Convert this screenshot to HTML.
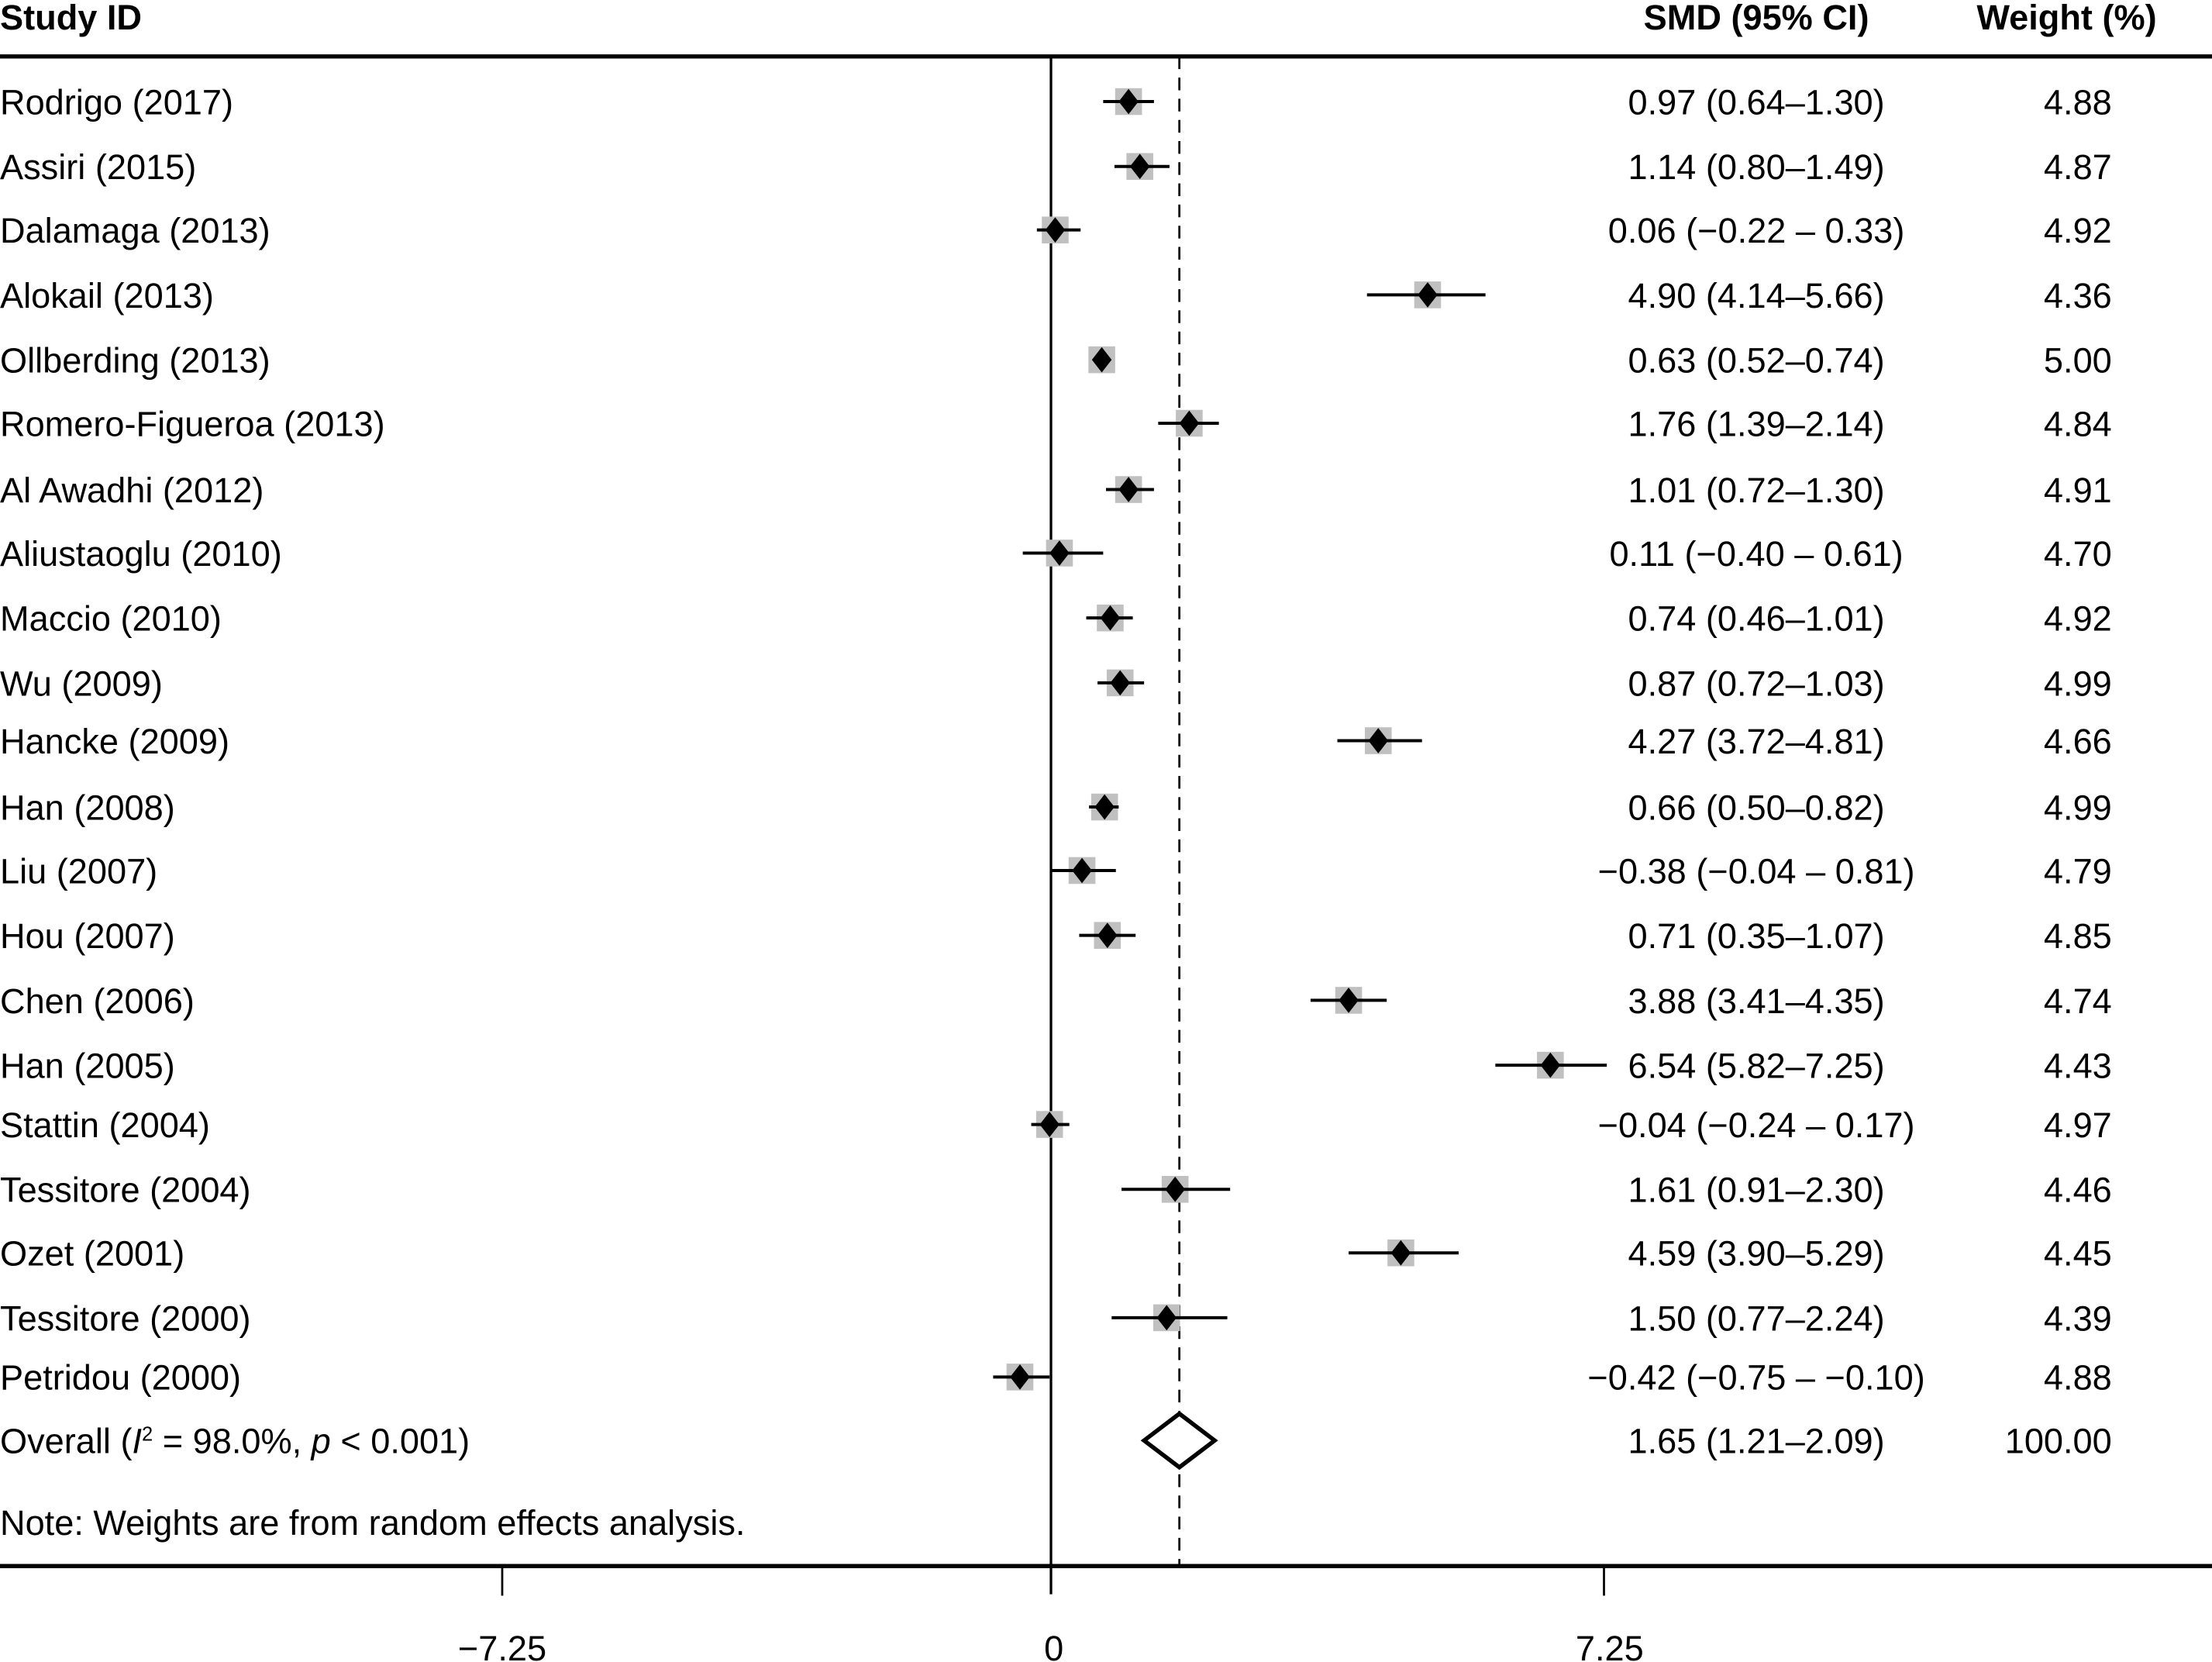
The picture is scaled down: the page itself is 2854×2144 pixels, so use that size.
<!DOCTYPE html>
<html><head><meta charset="utf-8"><style>
html,body{margin:0;padding:0;background:#fff;}
svg{display:block;}
text{font-family:"Liberation Sans",sans-serif;font-size:24.8px;fill:#000;}
</style></head><body>
<svg width="2854" height="2144" viewBox="0 0 1568 1178" preserveAspectRatio="none" xmlns="http://www.w3.org/2000/svg">
<rect width="1568" height="1178" fill="#fff"/>
<text x="0" y="21" font-weight="bold">Study ID</text>
<text x="1245" y="21" font-weight="bold" text-anchor="middle">SMD (95% CI)</text>
<text x="1465" y="21" font-weight="bold" text-anchor="middle">Weight (%)</text>
<line x1="0" y1="40" x2="1568" y2="40" stroke="#000" stroke-width="3"/>
<line x1="0" y1="1110" x2="1568" y2="1110" stroke="#000" stroke-width="3"/>
<line x1="745" y1="40" x2="745" y2="1130" stroke="#000" stroke-width="1.8"/>
<line x1="836" y1="40" x2="836" y2="1110" stroke="#000" stroke-width="1.5" stroke-dasharray="9,6"/>
<line x1="356" y1="1110" x2="356" y2="1131" stroke="#000" stroke-width="1.5"/>
<line x1="1137" y1="1110" x2="1137" y2="1131" stroke="#000" stroke-width="1.5"/>
<text x="356" y="1177" text-anchor="middle">−7.25</text>
<text x="747" y="1177" text-anchor="middle">0</text>
<text x="1141" y="1177" text-anchor="middle">7.25</text>
<g id="rows"></g>
<polygon points="811,1021 836,1002 861,1021 836,1040" fill="#fff" stroke="#000" stroke-width="3"/>
<text x="0" y="1030">Overall (<tspan font-style="italic">I</tspan><tspan font-size="14" dy="-9">2</tspan><tspan dy="9"> = 98.0%, </tspan><tspan font-style="italic">p</tspan> &lt; 0.001)</text>
<text x="1245" y="1030" text-anchor="middle">1.65 (1.21–2.09)</text>
<text x="1497" y="1030" text-anchor="end">100.00</text>
<text x="0" y="1088">Note: Weights are from random effects analysis.</text>
</svg>
<script>
var d=[
["Rodrigo (2017)",72,800,782,818,"0.97 (0.64–1.30)","4.88"],
["Assiri (2015)",118,808,790,829,"1.14 (0.80–1.49)","4.87"],
["Dalamaga (2013)",163,748,735,766,"0.06 (−0.22 – 0.33)","4.92"],
["Alokail (2013)",209,1012,969,1053,"4.90 (4.14–5.66)","4.36"],
["Ollberding (2013)",255,781,775,787,"0.63 (0.52–0.74)","5.00"],
["Romero-Figueroa (2013)",300,843,821,864,"1.76 (1.39–2.14)","4.84"],
["Al Awadhi (2012)",347,800,784,818,"1.01 (0.72–1.30)","4.91"],
["Aliustaoglu (2010)",392,751,725,782,"0.11 (−0.40 – 0.61)","4.70"],
["Maccio (2010)",438,787,770,803,"0.74 (0.46–1.01)","4.92"],
["Wu (2009)",484,794,778,811,"0.87 (0.72–1.03)","4.99"],
["Hancke (2009)",525,977,948,1008,"4.27 (3.72–4.81)","4.66"],
["Han (2008)",572,783,772,793,"0.66 (0.50–0.82)","4.99"],
["Liu (2007)",617,767,745,791,"−0.38 (−0.04 – 0.81)","4.79"],
["Hou (2007)",663,785,765,805,"0.71 (0.35–1.07)","4.85"],
["Chen (2006)",709,956,929,983,"3.88 (3.41–4.35)","4.74"],
["Han (2005)",755,1099,1060,1139,"6.54 (5.82–7.25)","4.43"],
["Stattin (2004)",797,744,731,758,"−0.04 (−0.24 – 0.17)","4.97"],
["Tessitore (2004)",843,833,795,872,"1.61 (0.91–2.30)","4.46"],
["Ozet (2001)",888,993,956,1034,"4.59 (3.90–5.29)","4.45"],
["Tessitore (2000)",934,827,788,870,"1.50 (0.77–2.24)","4.39"],
["Petridou (2000)",976,723,704,744,"−0.42 (−0.75 – −0.10)","4.88"]];
var g=document.getElementById("rows"),s="";
d.forEach(function(r){var y=r[1],x=r[2];
s+='<rect x="'+(x-9.5)+'" y="'+(y-9.5)+'" width="19" height="19" fill="#c0c0c0"/>';
s+='<line x1="'+r[3]+'" y1="'+y+'" x2="'+r[4]+'" y2="'+y+'" stroke="#000" stroke-width="2.2"/>';
s+='<polygon points="'+(x-7)+','+y+' '+x+','+(y-9)+' '+(x+7)+','+y+' '+x+','+(y+9)+'" fill="#000"/>';
s+='<text x="0" y="'+(y+9)+'">'+r[0]+'</text>';
s+='<text x="1245" y="'+(y+9)+'" text-anchor="middle">'+r[5]+'</text>';
s+='<text x="1497" y="'+(y+9)+'" text-anchor="end">'+r[6]+'</text>';});
g.innerHTML=s;
</script>
</body></html>
